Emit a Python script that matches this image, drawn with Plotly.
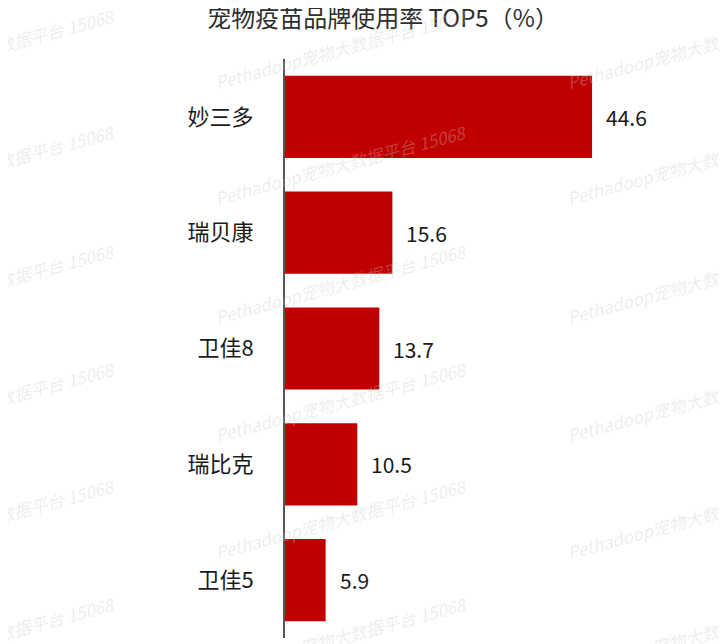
import plotly.graph_objects as go

categories = ["妙三多", "瑞贝康", "卫佳8", "瑞比克", "卫佳5"]
values = [44.6, 15.6, 13.7, 10.5, 5.9]
title_text = "宠物疫苗品牌使用率 TOP5（%）"
watermark_text = "Pethadoop宠物大数据平台 15068"

OFF = 8  # page body margin
W, H = 727 - OFF, 644 - OFF
L, R, T, B = 285 - OFF, 0, 59 - OFF, 6
PW, PH = W - L - R, H - T - B

def px(x):
    return (x - OFF - L) / PW

def py(y):
    return (H - B - (y - OFF)) / PH

FONT = "Noto Sans CJK SC, Noto Sans, sans-serif"

fig = go.Figure()
fig.add_trace(go.Bar(
    x=values, y=categories, orientation="h",
    marker=dict(color="#c00000", line=dict(width=0)),
    hoverinfo="skip",
))

annotations = []
# watermarks
for cx in [-11, 341, 693]:
    for cy in [48, 165, 283, 401, 518, 636]:
        annotations.append(dict(
            x=px(cx), y=py(cy), xref="paper", yref="paper",
            text="<i>" + watermark_text + "</i>", showarrow=False,
            textangle=-15, xanchor="center", yanchor="middle",
            font=dict(family=FONT, size=17, color="rgba(200,200,200,0.32)"),
        ))
# value labels
for c, v in zip(categories, values):
    annotations.append(dict(
        x=v, y=c, xref="x", yref="y", text=f"{v:.1f}", showarrow=False,
        xanchor="left", yanchor="middle", xshift=12,
        font=dict(family=FONT, size=21, color="#1a1a1a"),
    ))

fig.update_layout(
    width=W, height=H,
    margin=dict(l=L, r=R, t=T, b=B, pad=0),
    paper_bgcolor="white", plot_bgcolor="rgba(0,0,0,0)",
    showlegend=False,
    bargap=0.29,
    title=dict(
        text=title_text, xref="container", yref="container",
        x=(383 - OFF) / W, y=1 - (19 - OFF) / H, xanchor="center", yanchor="middle",
        font=dict(family=FONT, size=24, color="#2e2e2e"),
    ),
    xaxis=dict(range=[0, 64.2], visible=False, fixedrange=True),
    yaxis=dict(
        categoryorder="array", categoryarray=categories,
        range=[4.5, -0.5], showgrid=False, zeroline=False,
        showline=True, linecolor="#555555", linewidth=2,
        ticks="", ticklabelstandoff=25,
        tickfont=dict(family=FONT, size=22, color="#1a1a1a"),
        fixedrange=True,
    ),
    annotations=annotations,
)

fig.write_html("out.html")
